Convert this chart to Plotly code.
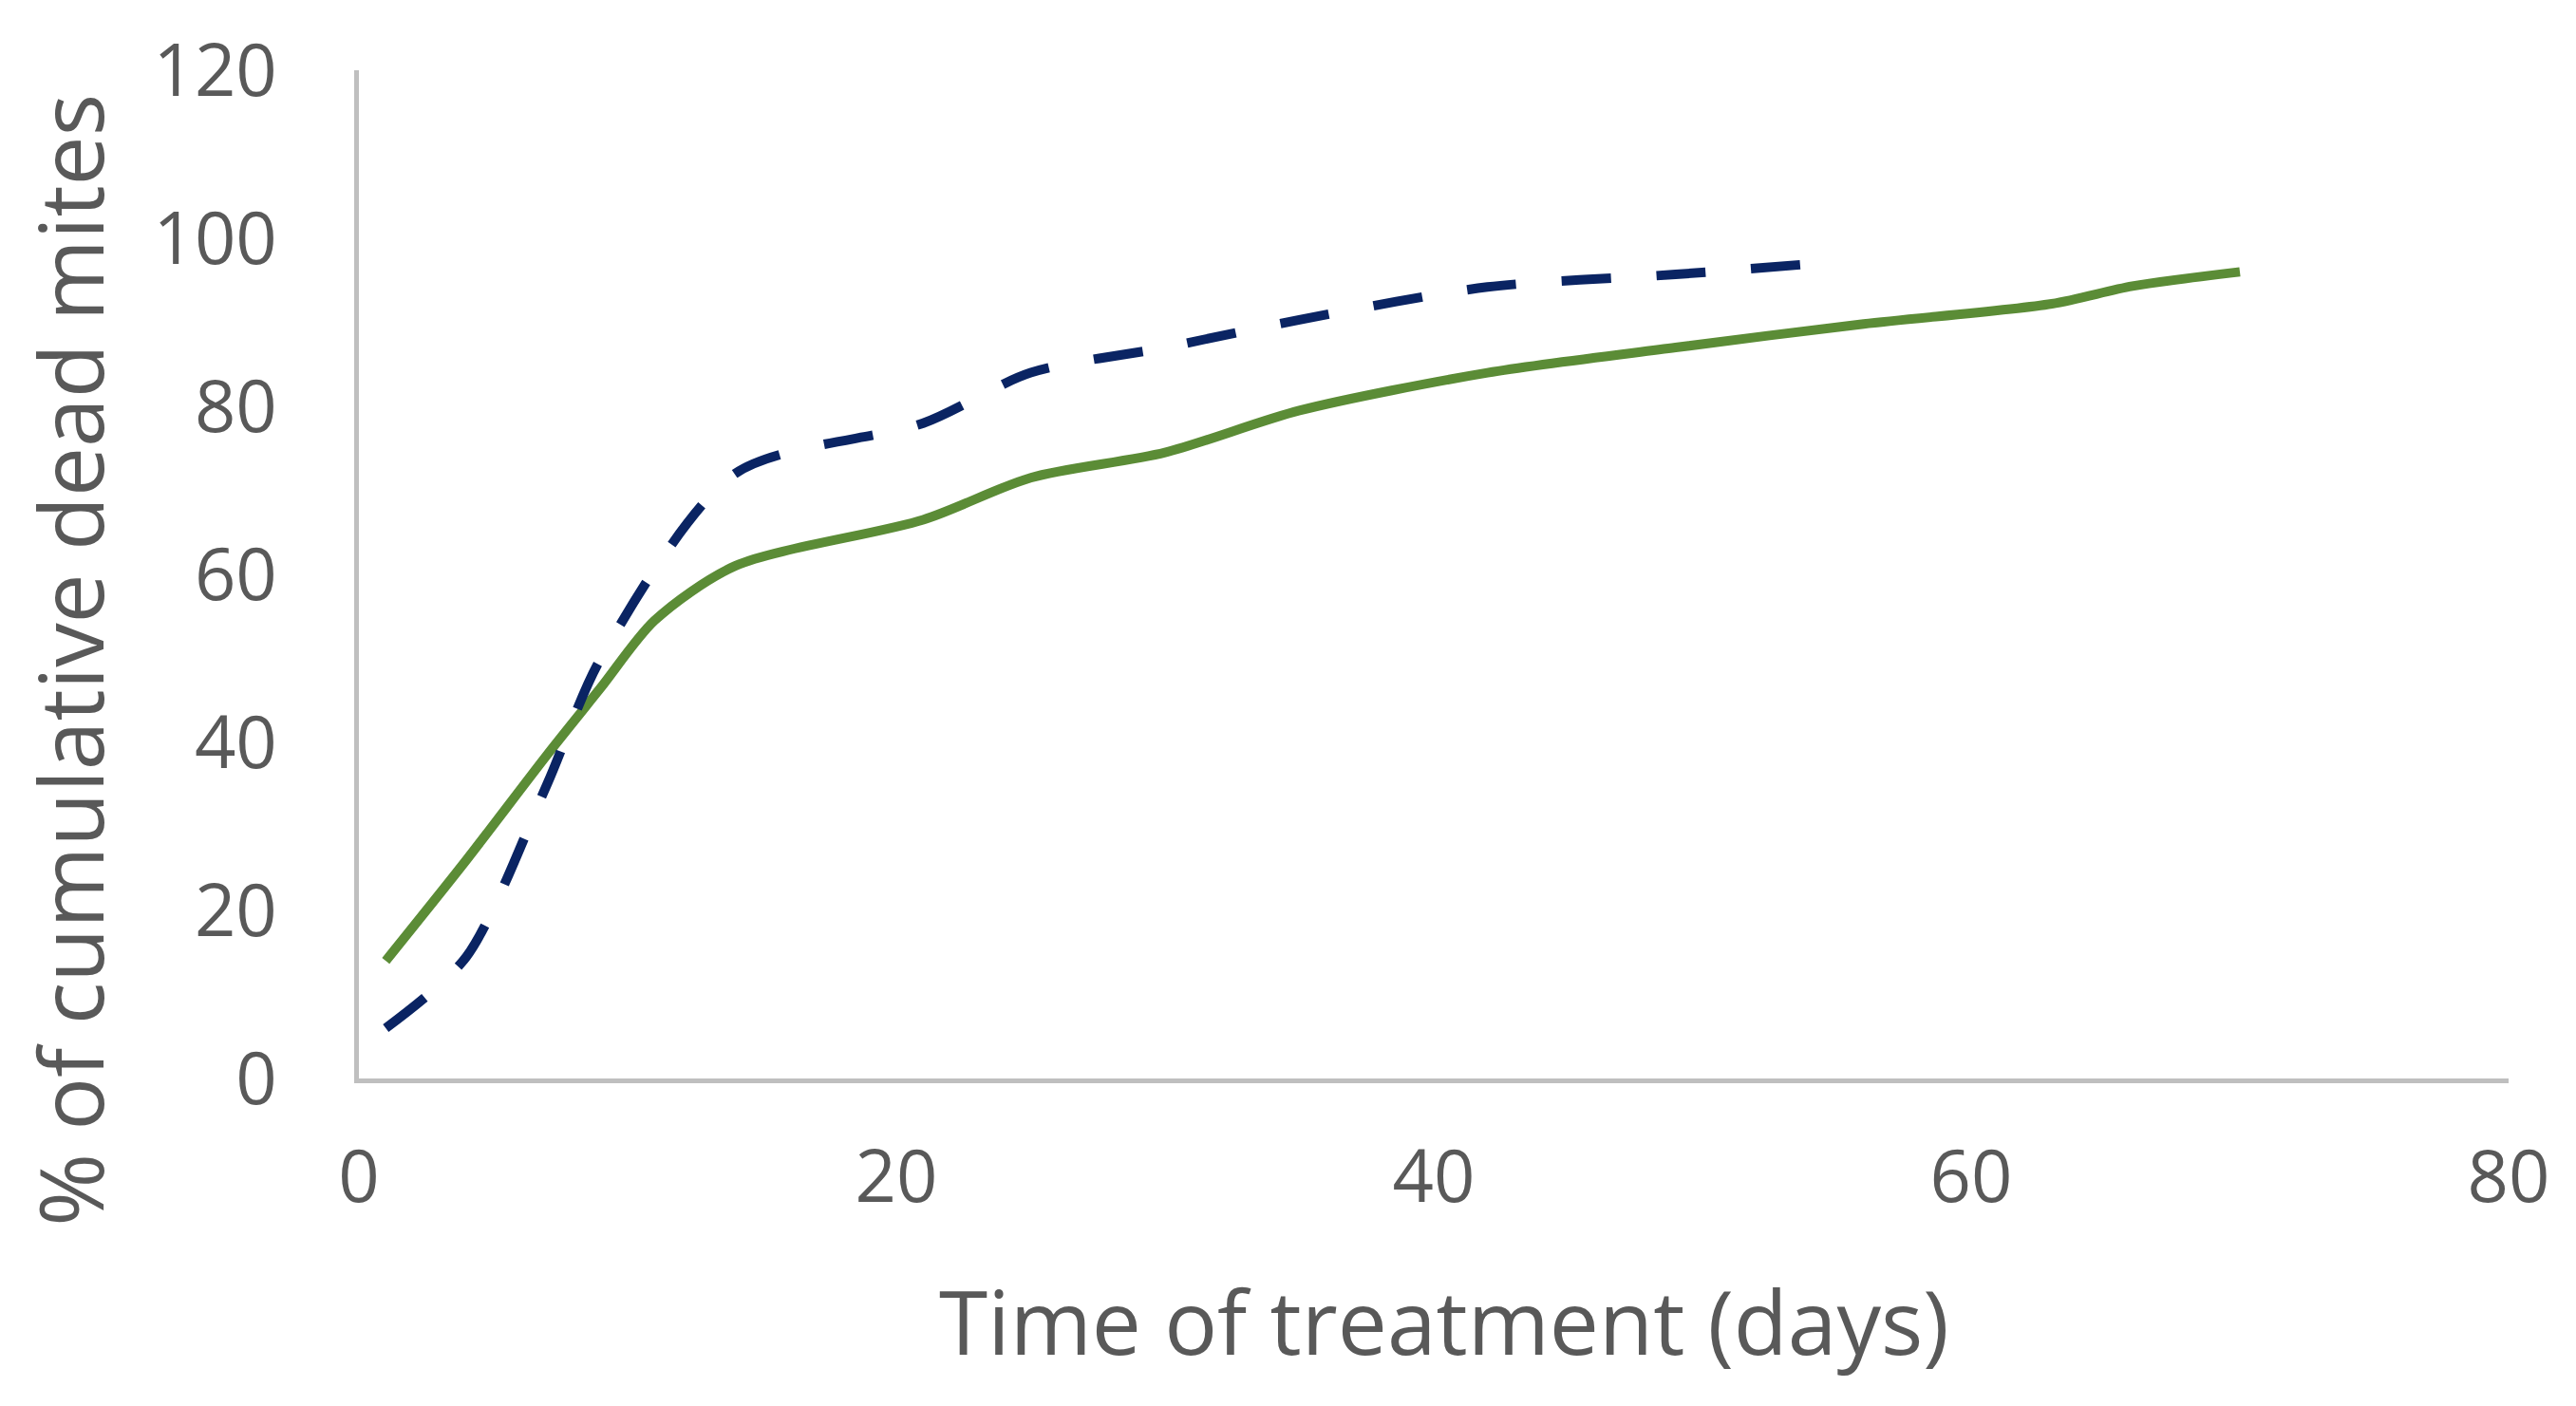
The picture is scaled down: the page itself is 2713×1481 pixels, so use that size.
import plotly.graph_objects as go

# Data
days_green = [1, 4, 7, 9, 11, 14, 21, 25, 30, 35, 42, 49, 56, 63, 66, 70]
pct_green = [14, 26, 38.5, 46.5, 54.5, 61, 66.5, 71.5, 74.5, 79.5, 84, 87, 89.8, 92.2, 94.3, 96]

days_blue = [1, 4, 7, 9, 14, 21, 25, 30, 35, 42, 49, 55]
pct_blue = [6, 14.5, 35, 50, 72, 78, 84, 87, 90.3, 94.2, 95.7, 97.2]

x_ticks = [0, 20, 40, 60, 80]
y_ticks = [0, 20, 40, 60, 80, 100, 120]

font_family = "Open Sans, Noto Sans, sans-serif"
gray = "#595959"

fig = go.Figure()
fig.add_trace(go.Scatter(x=days_green, y=pct_green, mode="lines",
                         line=dict(color="#5B8C36", width=10, shape="spline", smoothing=0.8),
                         showlegend=False))
fig.add_trace(go.Scatter(x=days_blue, y=pct_blue, mode="lines",
                         line=dict(color="#0A2463", width=10, shape="spline", smoothing=0.8,
                                   dash="52px,48px"),
                         showlegend=False))

fig.update_layout(
    width=2713, height=1481,
    margin=dict(l=370, r=79, t=57, b=353),
    paper_bgcolor="white", plot_bgcolor="white",
    font=dict(family=font_family, color=gray),
)
fig.update_xaxes(range=[0, 80], tickvals=x_ticks, showgrid=False, zeroline=False,
                 showline=True, linecolor="#BFBFBF", linewidth=5, ticks="",
                 tickfont=dict(size=76, color=gray), ticklabelstandoff=34)
fig.update_yaxes(range=[0, 120], tickvals=y_ticks, showgrid=False, zeroline=False,
                 showline=True, linecolor="#BFBFBF", linewidth=5, ticks="",
                 tickfont=dict(size=76, color=gray), ticklabelstandoff=66)

fig.add_annotation(text="Time of treatment (days)", xref="paper", yref="paper",
                   x=0.505, y=-0.24, xanchor="center", yanchor="middle",
                   showarrow=False, font=dict(size=93, color=gray, family=font_family))
fig.add_annotation(text="% of cumulative dead mites", xref="paper", yref="paper",
                   x=-0.1345, y=0.415, xanchor="center", yanchor="middle", textangle=-90,
                   showarrow=False, font=dict(size=93, color=gray, family=font_family))

fig.write_html("out.html")
